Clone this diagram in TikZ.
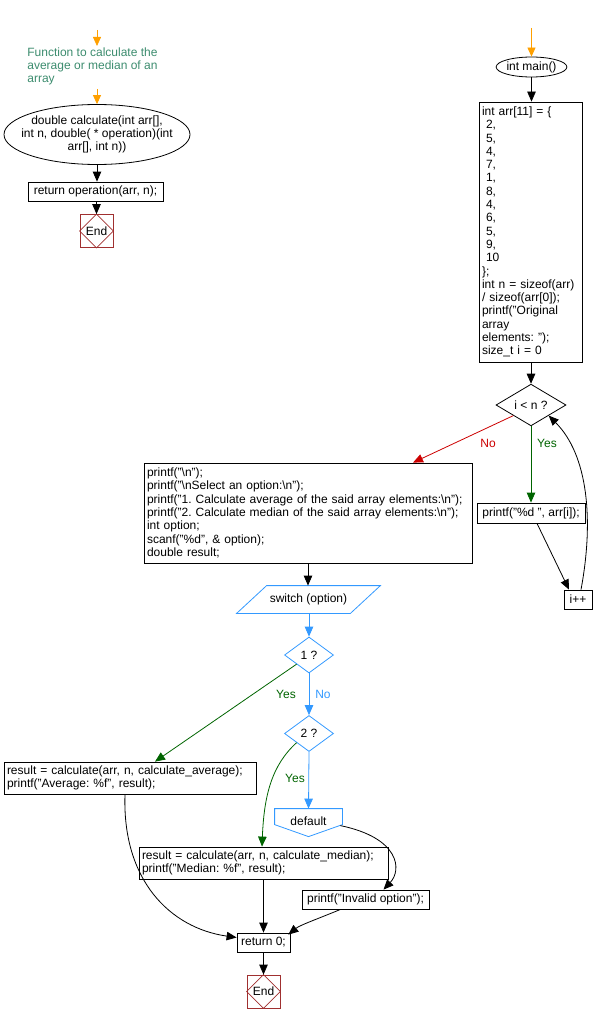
\documentclass[tikz,border=0pt]{standalone}
\usepackage{fontspec}
\setmainfont{Liberation Sans}
\usetikzlibrary{shapes.geometric,arrows.meta,calc}
\definecolor{orng}{HTML}{FFA000}
\definecolor{cmtc}{HTML}{3C8C6E}
\definecolor{nored}{HTML}{CC0000}
\definecolor{yesgreen}{HTML}{006400}
\definecolor{swblue}{HTML}{3399FF}
\definecolor{endred}{HTML}{A03030}
\begin{document}
\begin{tikzpicture}[x=1pt,y=-1pt,line width=0.8pt,
  every node/.style={font=\fontsize{12}{13.3}\selectfont\frenchspacing},
  tip/.style={-{Triangle[length=10pt,width=8.5pt]}},
  otip/.style={orng,-{Triangle[length=9pt,width=8pt]}},
  pbox/.style={draw, rectangle, inner sep=0pt, align=center},
  lbox/.style={draw, rectangle, inner xsep=3pt, inner ysep=0pt, align=left},
  dia/.style={draw, diamond, inner sep=0pt},
  endbox/.style={draw=endred, rectangle, minimum size=33pt, inner sep=0pt},
  enddia/.style={draw=endred, line width=0.6pt},
]
\useasboundingbox (0,0) rectangle (604,1022);

% ---------- left function ----------
\coordinate (oa1) at (97,30);
\node[text=cmtc, align=left, inner sep=0pt, anchor=north west] (cmt) at (27,47)
  {Function to calculate the\\average or median of an\\array};
\draw[otip] (oa1) -- ($(oa1 |- cmt.north)+(0,-1)$);
\node[rectangle, minimum width=186pt, minimum height=60pt, inner sep=0pt, align=center] (fn) at (97,134.5)
  {double calculate(int arr[],\\int n, double( * operation)(int\\arr[], int n))};
\draw (fn.center) ellipse [x radius=93pt, y radius=30pt];
\coordinate (oa2) at (97,89);
\draw[otip] (oa2) -- (fn.north);
\node[pbox, minimum width=135pt, minimum height=19pt] (r1) at (95.5,191.5) {return operation(arr, n);};
\draw[tip] (fn.south) -- (fn.south |- r1.north);
\node[endbox] (e1) at (96.5,231) {End};
\draw[enddia] (e1.north) -- (e1.east) -- (e1.south) -- (e1.west) -- cycle;
\draw[tip] (e1.north |- r1.south) -- (e1.north);

% ---------- main ----------
\node[draw, ellipse, minimum width=67pt, minimum height=20pt, inner sep=0pt] (mn) at (531.5,67) {int main()};
\coordinate (oa3) at (531.5,28);
\draw[otip] (oa3) -- (mn.north);
\node[lbox, text width=97pt, minimum height=260pt] (arrbox) at (530.5,232)
  {int arr[11] = \{\\~2,\\~5,\\~4,\\~7,\\~1,\\~8,\\~4,\\~6,\\~5,\\~9,\\~10\\\};\\int n = sizeof(arr)\\/ sizeof(arr[0]);\\printf("Original\\array\\elements: ");\\size\_t i = 0};
\draw[tip] (mn.south) -- (mn.south |- arrbox.north);
\node[dia, minimum width=70pt, minimum height=36pt] (lp) at (531,405) {i < n ?};
\draw[tip] (lp.north |- arrbox.south) -- (lp.north);
\node[pbox, minimum width=108pt, minimum height=20pt] (pr) at (531,513) {printf("\%d ", arr[i]);};
\draw[yesgreen, tip] (lp.south) -- (pr.north);
\node[text=yesgreen] (y1) at (547,443) {Yes};
\node[pbox, minimum width=28pt, minimum height=19pt] (ip) at (578,599.5) {i++};
\draw[tip] ($(pr.south)+(6,0)$) -- ($(ip.north)+(-9,0)$);
\draw[tip] ($(ip.north)+(3,0)$) .. controls (594,520) and (588,455) .. (lp.south east);

\node[lbox, text width=322pt, minimum height=100pt] (big) at (308,513)
  {printf("\textbackslash{}n");\\printf("\textbackslash{}nSelect an option:\textbackslash{}n");\\printf("1. Calculate average of the said array elements:\textbackslash{}n");\\printf("2. Calculate median of the said array elements:\textbackslash{}n");\\int option;\\scanf("\%d", \& option);\\double result;};
\draw[nored, tip] (lp.south west) -- ($(big.north)+(105,0)$);
\node[text=nored] (n1) at (488,443) {No};

% ---------- switch ----------
\node[minimum width=143pt, minimum height=27pt, inner sep=0pt] (sw) at (308.5,599.5) {switch (option)};
\draw[swblue] ($(sw.north west)+(30,0)$) -- (sw.north east) -- ($(sw.south east)+(-30,0)$) -- (sw.south west) -- cycle;
\draw[tip] (big.south) -- (big.south |- sw.north);
\node[dia, draw=swblue, minimum width=49pt, minimum height=36pt] (d1) at (309,655) {1 ?};
\draw[swblue, tip] (sw.south -| d1) -- (d1.north);
\node[dia, draw=swblue, minimum width=49pt, minimum height=36pt] (d2) at (309,733.5) {2 ?};
\draw[swblue, tip] (d1.south) -- (d2.north);
\node[text=yesgreen] (y2) at (286,694) {Yes};
\node[text=swblue] (n2) at (323,694) {No};
\node[inner sep=0pt, minimum width=67pt, minimum height=24pt] (df) at (308.5,821) {default};
\draw[swblue] (df.north west) -- (df.north east) -- ($(df.north east)+(0,16)$) -- ($(df.north)+(0,28)$) -- ($(df.north west)+(0,16)$) -- cycle;
\draw[swblue, tip] (d2.south) -- (df.north);
\node[text=yesgreen] (y3) at (295,778) {Yes};

\node[lbox, text width=246pt, minimum height=32pt] (avg) at (130,778)
  {result = calculate(arr, n, calculate\_average);\\printf("Average: \%f", result);};
\draw[yesgreen, tip] (d1.south west) -- ($(avg.north)+(25,0)$);
\node[lbox, text width=243pt, minimum height=32pt] (med) at (263.5,863)
  {result = calculate(arr, n, calculate\_median);\\printf("Median: \%f", result);};
\draw[yesgreen, tip] (d2.south west) .. controls (272,765) and (264,795) .. ($(med.north)+(-1.5,0)$);
\node[pbox, minimum width=127pt, minimum height=19pt] (inv) at (365.5,899.5) {printf("Invalid option");};
\draw[tip] ($(df.north east)+(-2,17)$) .. controls (400,838) and (402,870) .. ($(inv.north)+(18,0)$);
\node[pbox, minimum width=53pt, minimum height=19pt] (rt) at (263.5,942.5) {return 0;};
\draw[tip] ($(avg.south)+(-5,0)$) .. controls (122,880) and (170,928) .. ($(rt.west)+(0,-5)$);
\draw[tip] (med.south) -- (rt.north);
\draw[tip] ($(inv.south)+(-25,0)$) .. controls (320,918) and (300,925) .. ($(rt.north east)+(-2,2)$);
\node[endbox] (e2) at (263.5,991.5) {End};
\draw[enddia] (e2.north) -- (e2.east) -- (e2.south) -- (e2.west) -- cycle;
\draw[tip] (rt.south) -- (e2.north);
\end{tikzpicture}
\end{document}
